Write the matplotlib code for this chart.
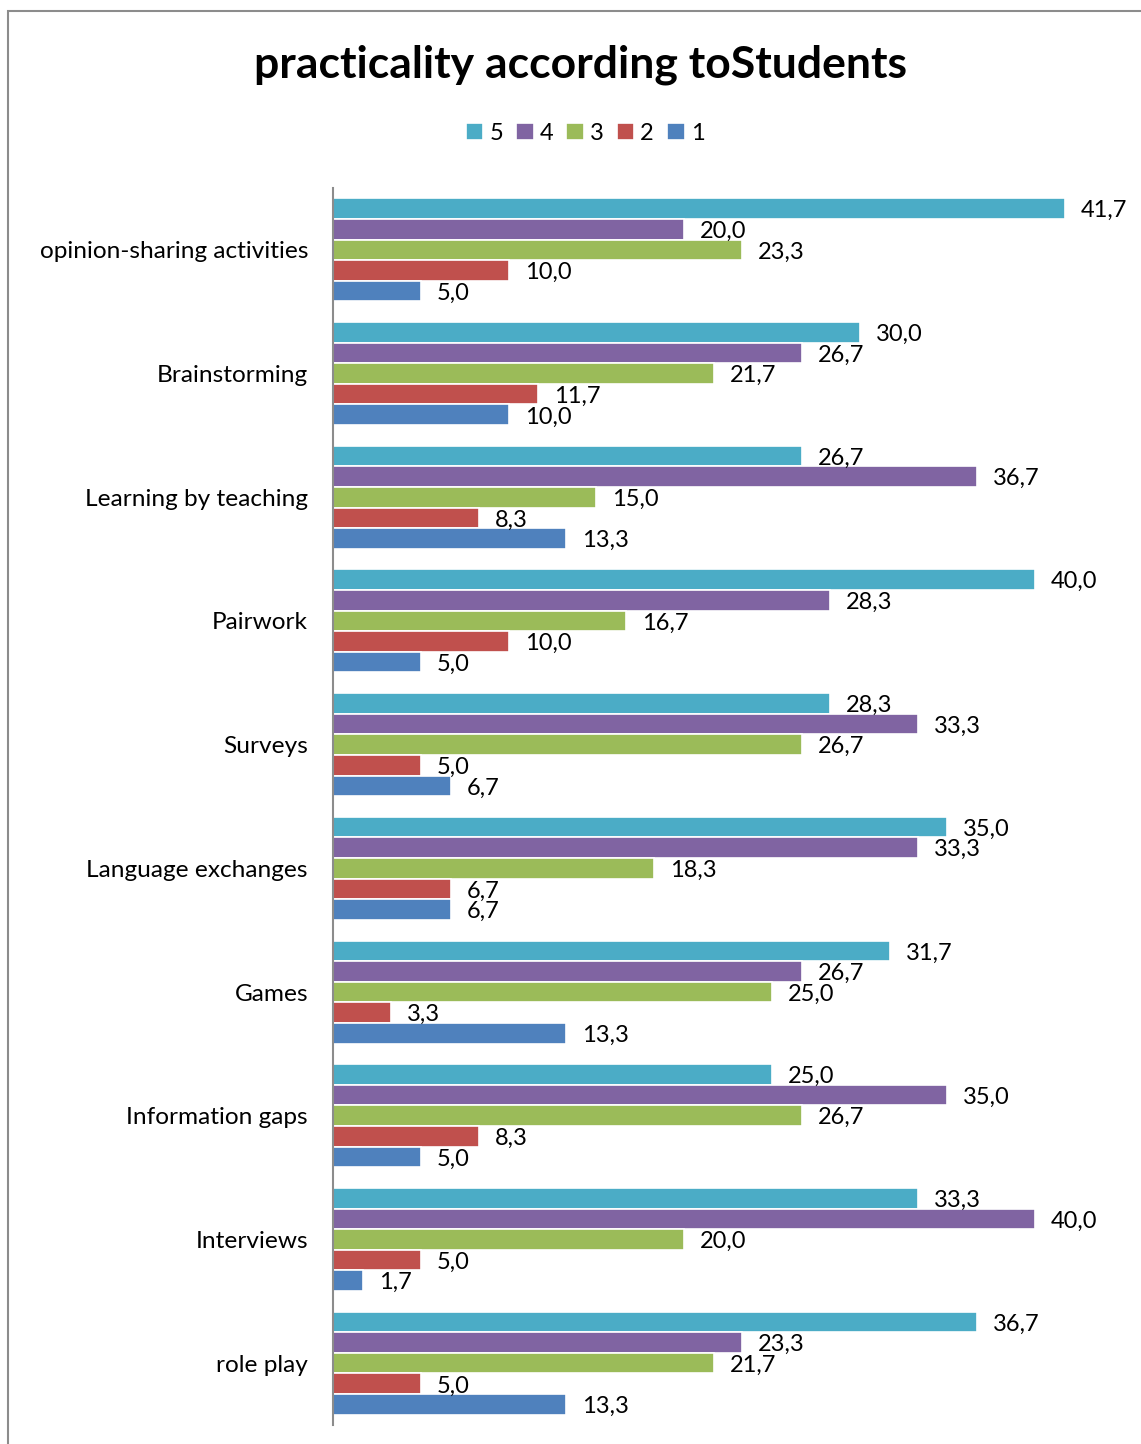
import matplotlib
matplotlib.use("Agg")
import matplotlib.pyplot as plt
import numpy as np
from matplotlib.patches import Rectangle

plt.rcParams['font.family'] = ['Lato', 'DejaVu Sans']

categories = ['opinion-sharing activities', 'Brainstorming', 'Learning by teaching',
              'Pairwork', 'Surveys', 'Language exchanges', 'Games',
              'Information gaps', 'Interviews', 'role play']
series_names = ['5', '4', '3', '2', '1']
colors = ['#4BACC6', '#8064A2', '#9BBB59', '#C0504D', '#4F81BD']

s5 = [41.7, 30.0, 26.7, 40.0, 28.3, 35.0, 31.7, 25.0, 33.3, 36.7]
s4 = [20.0, 26.7, 36.7, 28.3, 33.3, 33.3, 26.7, 35.0, 40.0, 23.3]
s3 = [23.3, 21.7, 15.0, 16.7, 26.7, 18.3, 25.0, 26.7, 20.0, 21.7]
s2 = [10.0, 11.7, 8.3, 10.0, 5.0, 6.7, 3.3, 8.3, 5.0, 5.0]
s1 = [5.0, 10.0, 13.3, 5.0, 6.7, 6.7, 13.3, 5.0, 1.7, 13.3]
series = [s5, s4, s3, s2, s1]

W, H = 1141, 1444
fig = plt.figure(figsize=(W / 100, H / 100), dpi=100)

# outer chart frame
fig.patches.append(Rectangle((8 / W, -0.05), 1.1, 1 - 11 / H + 0.05,
                             transform=fig.transFigure, fill=False,
                             edgecolor='#8c8c8c', linewidth=1.5))

ax = fig.add_axes([333 / W, 1 - 1425 / H, (1123 - 333) / W, (1425 - 188) / H])

n = len(categories)
slot = 1 / 6
ypos = np.arange(n)
for i, (name, vals, c) in enumerate(zip(series_names, series, colors)):
    y = ypos - 2 * slot + i * slot
    bars = ax.barh(y, vals, height=slot, color=c, edgecolor='white',
                   linewidth=1.2, label=name)
    for b, v in zip(bars, vals):
        ax.annotate(f"{v:.1f}".replace('.', ','),
                    (b.get_width(), b.get_y() + b.get_height() / 2),
                    xytext=(11.5, -1.5), textcoords='offset points',
                    ha='left', va='center', fontsize=17)

ax.set_xlim(0, 45)
ax.set_ylim(n - 0.5, -0.5)
ax.set_yticks(ypos)
ax.set_yticklabels(categories, fontsize=17.6)
ax.tick_params(axis='y', length=0, pad=18)
ax.set_xticks([])
for s in ['top', 'right', 'bottom']:
    ax.spines[s].set_visible(False)
ax.spines['left'].set_color('#8c8c8c')
ax.spines['left'].set_linewidth(1.5)

fig.text(580 / W, 1 - 65 / H, 'practicality according toStudents',
         ha='center', va='center', fontsize=32, fontweight='bold')

handles, labels = ax.get_legend_handles_labels()
fig.legend(handles, labels, loc='center', bbox_to_anchor=(585 / W, 1 - 133 / H),
           ncol=5, frameon=False, fontsize=17, handlelength=0.75,
           handleheight=0.75, handletextpad=0.25, columnspacing=0.55)

fig.savefig('out.png', dpi=100)
